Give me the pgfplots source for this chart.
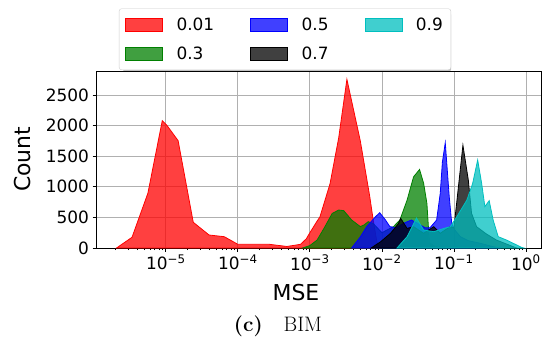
\documentclass[border=0pt]{standalone}
\usepackage{pgfplots}
\pgfplotsset{compat=1.18}
\usepackage{fontspec}
\setsansfont{DejaVu Sans}
\pgfplotsset{mypatch/.style={legend image code/.code={\draw[sharp corners,##1] (0bp,-6.5bp) rectangle (37bp,6.5bp);}}}
\definecolor{mpcyan}{rgb}{0,0.75,0.75}
\definecolor{mpgreen}{rgb}{0,0.5,0}
\begin{document}
\begin{tikzpicture}
\fill[black, opacity=0.25, rounded corners=2.5bp] (27bp,176bp) rectangle (355bp,236bp);
\begin{axis}[
  at={(0,0)}, anchor=south west,
  scale only axis, width=445bp, height=176.3bp,
  xmode=log, xmin=1.07e-6, xmax=1.62, ymin=0, ymax=2880,
  font=\sffamily\fontsize{17}{20}\selectfont,
  xtick={1e-5,1e-4,1e-3,1e-2,1e-1,1},
  xticklabels={10\textsuperscript{−5},10\textsuperscript{−4},10\textsuperscript{−3},10\textsuperscript{−2},10\textsuperscript{−1},10\textsuperscript{0}},
  minor xtick={2e-6,3e-6,4e-6,5e-6,6e-6,7e-6,8e-6,9e-6,
    2e-5,3e-5,4e-5,5e-5,6e-5,7e-5,8e-5,9e-5,
    2e-4,3e-4,4e-4,5e-4,6e-4,7e-4,8e-4,9e-4,
    2e-3,3e-3,4e-3,5e-3,6e-3,7e-3,8e-3,9e-3,
    2e-2,3e-2,4e-2,5e-2,6e-2,7e-2,8e-2,9e-2,
    0.2,0.3,0.4,0.5,0.6,0.7,0.8,0.9},
  ytick={0,500,1000,1500,2000,2500},
  yticklabels={0,500,1000,1500,2000,2500},
  xtick pos=bottom, ytick pos=left,
  tick align=outside, major tick length=3.5bp, minor tick length=2bp,
  tick style={black, line width=0.8bp},
  xmajorgrids, ymajorgrids,
  major grid style={color=black!31, line width=0.8bp},
  axis line style={line width=0.8bp},
  xlabel={MSE},
  label style={font=\sffamily\fontsize{22}{26}\selectfont},
  xlabel style={at={(axis description cs:0.4494,0)}, anchor=base, yshift=-52bp},
  legend columns=3,
  legend cell align=left,
  legend style={at={(rel axis cs:0.4247,1)}, anchor=south, yshift=1.7bp,
    font=\sffamily\fontsize{17}{20}\selectfont,
    draw=black!20, fill=white, rounded corners=2.5bp,
    inner xsep=6bp, inner ysep=7bp,
    row sep=11bp},
]
\addlegendimage{mypatch, fill=red, fill opacity=0.75, draw=red}
\addlegendentry{\hspace*{12bp}0.01\hspace*{34bp}}
\addlegendimage{mypatch, fill=blue, fill opacity=0.75, draw=blue}
\addlegendentry{\hspace*{12bp}0.5\hspace*{34bp}}
\addlegendimage{mypatch, fill=mpcyan, fill opacity=0.75, draw=mpcyan}
\addlegendentry{\hspace*{12bp}0.9}
\addlegendimage{mypatch, fill=mpgreen, fill opacity=0.75, draw=mpgreen}
\addlegendentry{\hspace*{12bp}0.3}
\addlegendimage{mypatch, fill=black, fill opacity=0.75, draw=black}
\addlegendentry{\hspace*{12bp}0.7}

% 0.01
\addplot[forget plot, fill=red, fill opacity=0.75, draw=red, line width=0.8bp] coordinates {
(2.065e-6,0) (3.388e-6,175) (5.623e-6,894) (8.913e-6,2080) (1.023e-5,2010) (1.479e-5,1753)
(2.399e-5,420) (3.981e-5,212) (6.457e-5,185) (1e-4,60) (2.754e-4,60) (4.786e-4,25) (7.413e-4,60)
(8.913e-4,150) (1e-3,250) (1.230e-3,420) (1.380e-3,510) (1.905e-3,1050) (2.512e-3,1800) (3.266e-3,2755)
(5.012e-3,1750) (6.761e-3,850) (7.586e-3,450) (8.511e-3,100) (9.55e-3,0)} \closedcycle;
% 0.3
\addplot[forget plot, fill=mpgreen, fill opacity=0.75, draw=mpgreen, line width=0.8bp] coordinates {
(7.943e-4,0) (1e-3,40) (1.259e-3,130) (1.585e-3,330) (2.042e-3,565) (2.512e-3,620) (2.951e-3,610)
(3.802e-3,457) (5.012e-3,350) (5.623e-3,375) (6.457e-3,430) (7.586e-3,400) (1e-2,250) (1.202e-2,300)
(1.445e-2,348) (1.778e-2,457) (2.239e-2,783) (2.754e-2,1163) (3.334e-2,1283) (3.802e-2,1054)
(4.217e-2,728) (4.571e-2,80) (5.623e-2,20) (7.943e-2,0)} \closedcycle;
% 0.5
\addplot[forget plot, fill=blue, fill opacity=0.75, draw=blue, line width=0.8bp] coordinates {
(3.802e-3,0) (5.012e-3,180) (6.166e-3,350) (8.128e-3,510) (9.333e-3,576) (1.122e-2,457) (1.288e-2,350)
(1.585e-2,330) (1.995e-2,403) (2.570e-2,457) (3.162e-2,400) (3.981e-2,330) (4.645e-2,330)
(5.754e-2,457) (6.457e-2,890) (6.918e-2,1400) (7.586e-2,1720) (8.610e-2,838) (9.333e-2,400)
(0.1023,300) (0.1230,185) (0.1585,120) (0.2344,76) (0.3548,20) (0.4467,0)} \closedcycle;
% 0.7
\addplot[forget plot, fill=black, fill opacity=0.75, draw=black, line width=0.8bp] coordinates {
(7.079e-3,0) (9.55e-3,100) (1.318e-2,240) (1.698e-2,400) (1.820e-2,485) (2.239e-2,320) (2.754e-2,348)
(3.802e-2,240) (5.248e-2,348) (6.457e-2,240) (8.913e-2,350) (0.1,330) (0.1096,750) (0.1334,1680)
(0.1585,1111) (0.1758,566) (0.2065,348) (0.2818,230) (0.3890,130) (0.7413,0)} \closedcycle;
% 0.9
\addplot[forget plot, fill=mpcyan, fill opacity=0.75, draw=mpcyan, line width=0.8bp] coordinates {
(1.622e-2,0) (2.239e-2,185) (3.020e-2,490) (3.802e-2,294) (5.248e-2,266) (7.244e-2,320) (8.913e-2,348)
(0.1096,511) (0.1514,783) (0.1820,1054) (0.2138,1438) (0.2427,1057) (0.2692,675) (0.3090,773)
(0.3508,457) (0.4121,185) (0.5370,130) (0.7413,50) (0.8710,10) (0.9333,0)} \closedcycle;
\end{axis}
\node[font=\sffamily\fontsize{22}{26}\selectfont, rotate=90, anchor=base] at (-65.3bp,88.8bp) {Count};
\node[font=\rmfamily\fontsize{21}{25}\selectfont, anchor=base] at (182bp,-83bp) {\textbf{(c)}\quad BIM};
\pgfresetboundingbox
\path[use as bounding box] (-96bp,-91bp) rectangle (446bp,248bp);
\end{tikzpicture}
\end{document}
